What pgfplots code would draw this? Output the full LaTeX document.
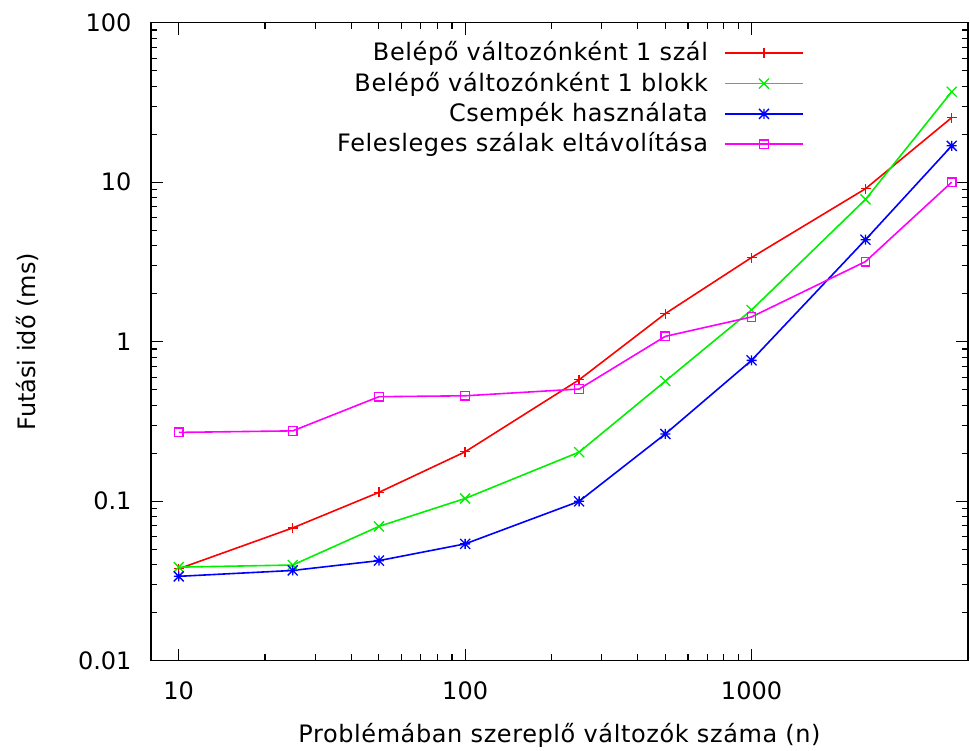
\documentclass[border=0pt]{standalone}
\usepackage{fontspec}
\setmainfont{DejaVu Sans}
\newfontfamily\lsfont{DejaVu Sans}[LetterSpace=2.5]
\usepackage{pgfplots}
\pgfplotsset{compat=1.18}
\definecolor{gpred}{RGB}{255,0,0}
\definecolor{gpgreen}{RGB}{0,240,0}
\definecolor{gpblue}{RGB}{0,0,255}
\definecolor{gpmag}{RGB}{255,0,255}
\newcommand\mkstate[1]{\pgfsetlinewidth{1.3pt}\pgfsetdash{}{0pt}\pgfsetstrokecolor{#1}}
\pgfdeclareplotmark{gpplusR}{\mkstate{gpred}%
  \pgfpathmoveto{\pgfqpoint{-5pt}{0pt}}\pgfpathlineto{\pgfqpoint{5pt}{0pt}}%
  \pgfpathmoveto{\pgfqpoint{0pt}{-5pt}}\pgfpathlineto{\pgfqpoint{0pt}{5pt}}%
  \pgfusepathqstroke}
\pgfdeclareplotmark{gpxG}{\mkstate{gpgreen}%
  \pgfpathmoveto{\pgfqpoint{-5pt}{-5pt}}\pgfpathlineto{\pgfqpoint{5pt}{5pt}}%
  \pgfpathmoveto{\pgfqpoint{-5pt}{5pt}}\pgfpathlineto{\pgfqpoint{5pt}{-5pt}}%
  \pgfusepathqstroke}
\pgfdeclareplotmark{gpstarB}{\mkstate{gpblue}%
  \pgfpathmoveto{\pgfqpoint{-5pt}{0pt}}\pgfpathlineto{\pgfqpoint{5pt}{0pt}}%
  \pgfpathmoveto{\pgfqpoint{0pt}{-5pt}}\pgfpathlineto{\pgfqpoint{0pt}{5pt}}%
  \pgfpathmoveto{\pgfqpoint{-5pt}{-5pt}}\pgfpathlineto{\pgfqpoint{5pt}{5pt}}%
  \pgfpathmoveto{\pgfqpoint{-5pt}{5pt}}\pgfpathlineto{\pgfqpoint{5pt}{-5pt}}%
  \pgfusepathqstroke}
\pgfdeclareplotmark{gpsqM}{\mkstate{gpmag}%
  \pgfpathrectanglecorners{\pgfqpoint{-4.3pt}{-4.3pt}}{\pgfqpoint{4.3pt}{4.3pt}}%
  \pgfusepathqstroke}
\newcommand\legsample[2]{%
  \pgfsetlinewidth{1.6pt}\pgfsetdash{}{0pt}\pgfsetstrokecolor{#1}%
  \pgfpathmoveto{\pgfqpoint{0pt}{0pt}}\pgfpathlineto{\pgfqpoint{78pt}{0pt}}\pgfusepathqstroke
  \pgftransformshift{\pgfqpoint{39pt}{0pt}}\pgfuseplotmark{#2}}
\begin{document}
\fontsize{24}{29}\selectfont
\begin{tikzpicture}
\begin{loglogaxis}[
  at={(0,0)}, anchor=south west,
  scale only axis, width=817pt, height=638pt,
  xmin=8, xmax=5700, ymin=0.01, ymax=100,
  axis line style={line width=1.2pt},
  every tick/.style={line width=1.1pt},
  major tick length=12pt, minor tick length=6.5pt,
  xtick={10,100,1000}, xticklabels={10,100,1000},
  ytick={0.01,0.1,1,10,100}, yticklabels={0.01,0.1,1,10,100},
  /pgf/number format/assume math mode=true,
  xticklabel style={inner sep=0pt, anchor=north, yshift=-21pt},
  yticklabel style={inner sep=0pt, anchor=east, xshift=-19.3pt},
  xlabel={\lsfont Problémában szereplő változók száma (n)},
  ylabel={Futási idő (ms)},
  every axis x label/.style={at={(axis description cs:0.5,-0.129)}, anchor=base},
  every axis y label/.style={at={(axis description cs:-0.1408,0.5)}, rotate=90, anchor=base},
  legend cell align=right,
  legend plot pos=right,
  legend style={at={(axis description cs:0.798,0.9685)}, anchor=north east,
    draw=none, fill=none, inner sep=0pt, outer sep=0pt,
    row sep=9.3pt, column sep=17pt, font=\lsfont,
    nodes={inner sep=0pt, text height=18pt, text depth=3pt}},
]
\addplot[color=gpred, line width=1.6pt, mark=gpplusR,
  legend image code/.code={\legsample{gpred}{gpplusR}}]
  coordinates {(10,0.0377) (25,0.068) (50,0.1136) (100,0.204) (250,0.577) (500,1.50) (1000,3.37) (2500,9.1) (5000,25.4)};
\addlegendentry{Belépő változónként 1 szál}
\addplot[color=gpgreen, line width=1.6pt, mark=gpxG,
  legend image code/.code={\legsample{gpgreen}{gpxG}}]
  coordinates {(10,0.0386) (25,0.0398) (50,0.0695) (100,0.104) (250,0.203) (500,0.566) (1000,1.58) (2500,7.8) (5000,36.9)};
\addlegendentry{Belépő változónként 1 blokk}
\addplot[color=gpblue, line width=1.6pt, mark=gpstarB,
  legend image code/.code={\legsample{gpblue}{gpstarB}}]
  coordinates {(10,0.0338) (25,0.0368) (50,0.0424) (100,0.054) (250,0.0998) (500,0.264) (1000,0.764) (2500,4.36) (5000,16.9)};
\addlegendentry{Csempék használata}
\addplot[color=gpmag, line width=1.6pt, mark=gpsqM,
  legend image code/.code={\legsample{gpmag}{gpsqM}}]
  coordinates {(10,0.27) (25,0.276) (50,0.452) (100,0.458) (250,0.505) (500,1.08) (1000,1.43) (2500,3.18) (5000,10.0)};
\addlegendentry{Felesleges szálak eltávolítása}
\end{loglogaxis}
\pgfresetboundingbox
\path[use as bounding box] (-151pt,-90.3pt) rectangle (819pt,660.7pt);
\end{tikzpicture}
\end{document}
